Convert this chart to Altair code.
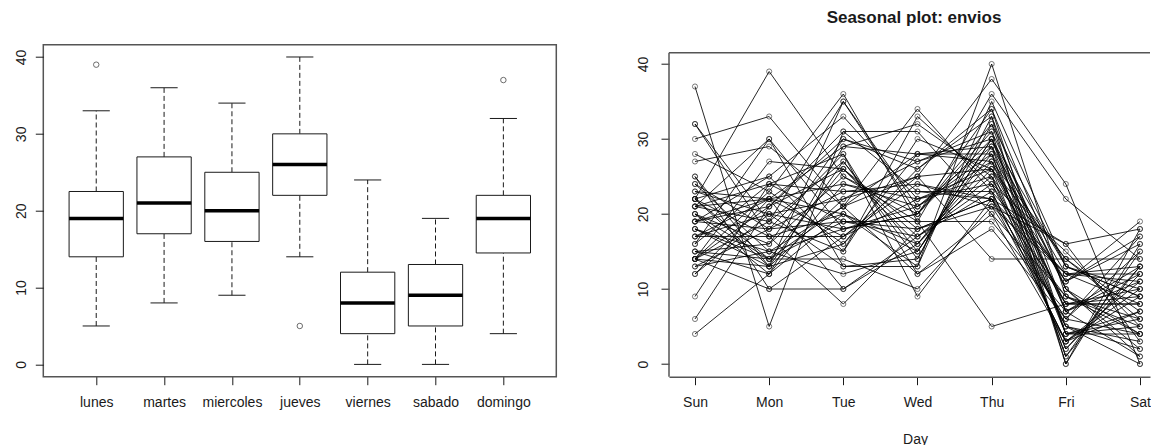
import json
import altair as alt
import pandas as pd

FONT = "Liberation Sans"
INK = "#1a1a1a"
FRAME = "#555555"

# ---------------- left panel: boxplot statistics ----------------
dias = ["lunes", "martes", "miercoles", "jueves", "viernes", "sabado", "domingo"]
bx_min = [5, 8, 9, 14, 0, 0, 4]
bx_q1 = [14, 17, 16, 22, 4, 5, 14.5]
bx_med = [19, 21, 20, 26, 8, 9, 19]
bx_q3 = [22.5, 27, 25, 30, 12, 13, 22]
bx_max = [33, 36, 34, 40, 24, 19, 32]
out_dia = ["lunes", "jueves", "domingo"]
out_val = [39, 5, 37]

# ---------------- right panel: weekly series (one value per week and day) ----------------
day_labels = ["Sun", "Mon", "Tue", "Wed", "Thu", "Fri", "Sat"]
sun = [4, 17, 22, 13, 19, 24, 14, 20, 30, 15, 21, 6, 17, 22, 13, 19, 25, 14, 20, 32, 16, 22, 9, 18, 23, 14,
       19, 25, 14, 21, 32, 16, 22, 12, 18, 23, 14, 19, 27, 15, 21, 37, 17, 22, 12, 18, 24, 14, 20, 28, 15, 21]
mon = [12, 20, 39, 18, 25, 15, 23, 14, 33, 12, 19, 21, 17, 25, 15, 22, 13, 21, 12, 19, 30, 17, 24, 15, 22, 13,
       21, 10, 19, 30, 17, 24, 14, 22, 13, 20, 10, 18, 29, 16, 24, 5, 22, 13, 20, 14, 18, 27, 16, 23, 14, 22]
tue = [20, 22, 25, 28, 33, 12, 16, 19, 21, 24, 27, 30, 8, 15, 18, 20, 22, 26, 29, 35, 13, 17, 19, 21, 24, 27,
       31, 10, 15, 18, 20, 23, 26, 29, 35, 13, 17, 19, 21, 25, 28, 31, 10, 16, 18, 21, 23, 26, 30, 36, 14, 17]
wed = [16, 27, 19, 9, 22, 15, 26, 19, 34, 22, 15, 26, 18, 33, 21, 15, 25, 18, 32, 21, 14, 25, 18, 25, 21, 14,
       31, 17, 30, 20, 13, 24, 17, 28, 20, 13, 24, 17, 28, 20, 12, 23, 16, 28, 20, 12, 23, 16, 27, 19, 10, 22]
thu = [28, 31, 5, 22, 25, 29, 33, 19, 23, 26, 30, 34, 21, 24, 27, 30, 38, 22, 25, 28, 32, 14, 22, 26, 29, 33,
       20, 23, 26, 30, 35, 21, 24, 27, 31, 40, 22, 25, 28, 32, 18, 22, 26, 29, 34, 20, 23, 27, 30, 36, 21, 24]
fri = [1, 10, 8, 12, 5, 12, 7, 7, 3, 2, 10, 4, 12, 5, 14, 7, 24, 9, 2, 11, 4, 14, 6, 14, 7, 0,
       9, 3, 11, 4, 13, 6, 15, 8, 0, 9, 3, 11, 4, 13, 6, 16, 8, 1, 10, 3, 12, 5, 13, 22, 16, 8]
sat = [13, 2, 8, 13, 2, 8, 13, 1, 7, 13, 1, 7, 12, 0, 7, 12, 0, 6, 12, 19, 6, 14, 4, 6, 11, 18,
       5, 11, 17, 5, 10, 17, 5, 10, 16, 4, 10, 16, 4, 9, 15, 18, 9, 15, 4, 9, 11, 3, 9, 14, 3, 8]

# upper edge of the seasonal plot's frame, in data units
frame_top = [41.5]

# ---------------- tables ----------------
box_df = pd.DataFrame({
    "dia": dias, "pos": list(range(1, len(dias) + 1)),
    "mn": bx_min, "q1": bx_q1, "med": bx_med, "q3": bx_q3, "mx": bx_max,
})
out_df = pd.DataFrame({"pos": [dias.index(d) + 1 for d in out_dia], "val": out_val})

cols = [sun, mon, tue, wed, thu, fri, sat]
rows = []
for w in range(len(sun)):
    for d, col in enumerate(cols):
        rows.append({"week": w, "day": d + 1, "value": col[w]})
seas_df = pd.DataFrame(rows)
frame_df = pd.DataFrame({"top": frame_top})

# ---------------- left panel ----------------
LW, LH = 513, 332
xs_l = alt.Scale(domain=[0.22, 7.78], nice=False, zero=False)
ys = alt.Scale(domain=[-1.6, 41.6], nice=False, zero=False)

x_axis_l = alt.Axis(values=list(range(1, 8)), labelExpr=json.dumps(dias) + "[datum.value-1]",
                    title=None, grid=False, domain=False, tickSize=8, tickColor=INK, tickWidth=1,
                    labelPadding=11, labelFontSize=14, labelFont=FONT, labelColor=INK)
y_axis_l = alt.Axis(values=[0, 10, 20, 30, 40], title=None, grid=False, domain=False, tickSize=8,
                    tickColor=INK, tickWidth=1, labelAngle=270, labelAlign="center",
                    labelBaseline="alphabetic", labelPadding=10, labelFontSize=14, labelFont=FONT,
                    labelColor=INK)


def XL(field):
    return alt.X(field, scale=xs_l, axis=x_axis_l)


def YL(field):
    return alt.Y(field, scale=ys, axis=y_axis_l)


base = alt.Chart(box_df).transform_calculate(
    bl="datum.pos - 0.4", br="datum.pos + 0.4", cl="datum.pos - 0.2", cr="datum.pos + 0.2"
)
whisk_up = base.mark_rule(color=INK, strokeWidth=1, strokeDash=[5, 3]).encode(
    x=XL("pos:Q"), y=YL("q3:Q"), y2="mx:Q")
whisk_lo = base.mark_rule(color=INK, strokeWidth=1, strokeDash=[5, 3]).encode(
    x=XL("pos:Q"), y=YL("mn:Q"), y2="q1:Q")
cap_up = base.mark_rule(color=INK, strokeWidth=1).encode(x=XL("cl:Q"), x2="cr:Q", y=YL("mx:Q"))
cap_lo = base.mark_rule(color=INK, strokeWidth=1).encode(x=XL("cl:Q"), x2="cr:Q", y=YL("mn:Q"))
boxes = base.mark_rect(fill="white", stroke=INK, strokeWidth=1).encode(
    x=XL("bl:Q"), x2="br:Q", y=YL("q1:Q"), y2="q3:Q")
medians = base.mark_rule(color="black", strokeWidth=3.5).encode(x=XL("bl:Q"), x2="br:Q", y=YL("med:Q"))
outl = alt.Chart(out_df).mark_point(shape="circle", filled=False, size=30, color=INK, strokeWidth=0.9).encode(
    x=XL("pos:Q"), y=YL("val:Q"))

TITLE_OFFSET = 18.2
left = alt.layer(whisk_up, whisk_lo, cap_up, cap_lo, boxes, medians, outl).properties(
    width=LW, height=LH,
    title=alt.TitleParams(" ", fontSize=17, fontWeight="bold", font=FONT, offset=TITLE_OFFSET,
                          anchor="middle"),
    view=alt.ViewBackground(stroke=FRAME, strokeWidth=1.5),
)

# ---------------- right panel ----------------
RW, RH = 481, 332
xs_r = alt.Scale(domain=[0.6495, 7.135], nice=False, zero=False)
ys_r = alt.Scale(domain=[-1.693, 42.573], nice=False, zero=False)
x_axis_r = alt.Axis(values=list(range(1, 8)), labelExpr=json.dumps(day_labels) + "[datum.value-1]",
                    title="Day", titleFontSize=14, titleFont=FONT, titleFontWeight="normal",
                    titleColor=INK, titlePadding=23, titleX=246, grid=False, domain=True,
                    domainColor=FRAME, domainWidth=1.5, tickSize=8, tickColor=INK, tickWidth=1,
                    labelPadding=11, labelFontSize=14, labelFont=FONT, labelColor=INK)
y_axis_r = alt.Axis(values=[0, 10, 20, 30, 40], title=None, grid=False, domain=False,
                    tickSize=8, tickColor=INK, tickWidth=1, labelAngle=270,
                    labelAlign="center", labelBaseline="alphabetic", labelPadding=14, labelFontSize=14,
                    labelFont=FONT, labelColor=INK)


def XR(field):
    return alt.X(field, scale=xs_r, axis=x_axis_r)


def YR(field):
    return alt.Y(field, scale=ys_r, axis=y_axis_r)


rbase = alt.Chart(seas_df)
lines = rbase.mark_line(color="black", strokeWidth=0.85).encode(
    x=XR("day:Q"), y=YR("value:Q"), detail="week:N", order="day:Q")
pts = rbase.mark_point(shape="circle", filled=False, size=26, color="#111111", strokeWidth=0.8).encode(
    x=XR("day:Q"), y=YR("value:Q"))
fbase = alt.Chart(frame_df)
top_line = fbase.mark_rule(color=FRAME, strokeWidth=1.5).encode(
    x=alt.value(0), x2=alt.value(RW), y=YR("top:Q"))
left_line = fbase.mark_rule(color=FRAME, strokeWidth=1.5).encode(
    x=alt.value(0), y=YR("top:Q"), y2=alt.value(RH))

right = alt.layer(lines, pts, top_line, left_line).properties(
    width=RW, height=RH,
    title=alt.TitleParams("Seasonal plot: envios", fontSize=17, fontWeight="bold", font=FONT,
                          color=INK, offset=TITLE_OFFSET, anchor="middle", dx=4.5),
    view=alt.ViewBackground(stroke=None),
)

# fixed-size canvas (1143 x 437 inside the 8px page margin); the overflow is clipped like the original
PAD_L, PAD_T = 35.3, 36.7
chart = alt.hconcat(left, right, spacing=77.7).properties(
    autosize=alt.AutoSizeParams(type="none"),
    padding={"left": PAD_L, "top": PAD_T, "right": 1143 - PAD_L, "bottom": 437 - PAD_T},
).configure(font=FONT).configure_view(stroke=None)

chart.save("out.html", embed_options={"renderer": "svg", "actions": False})
